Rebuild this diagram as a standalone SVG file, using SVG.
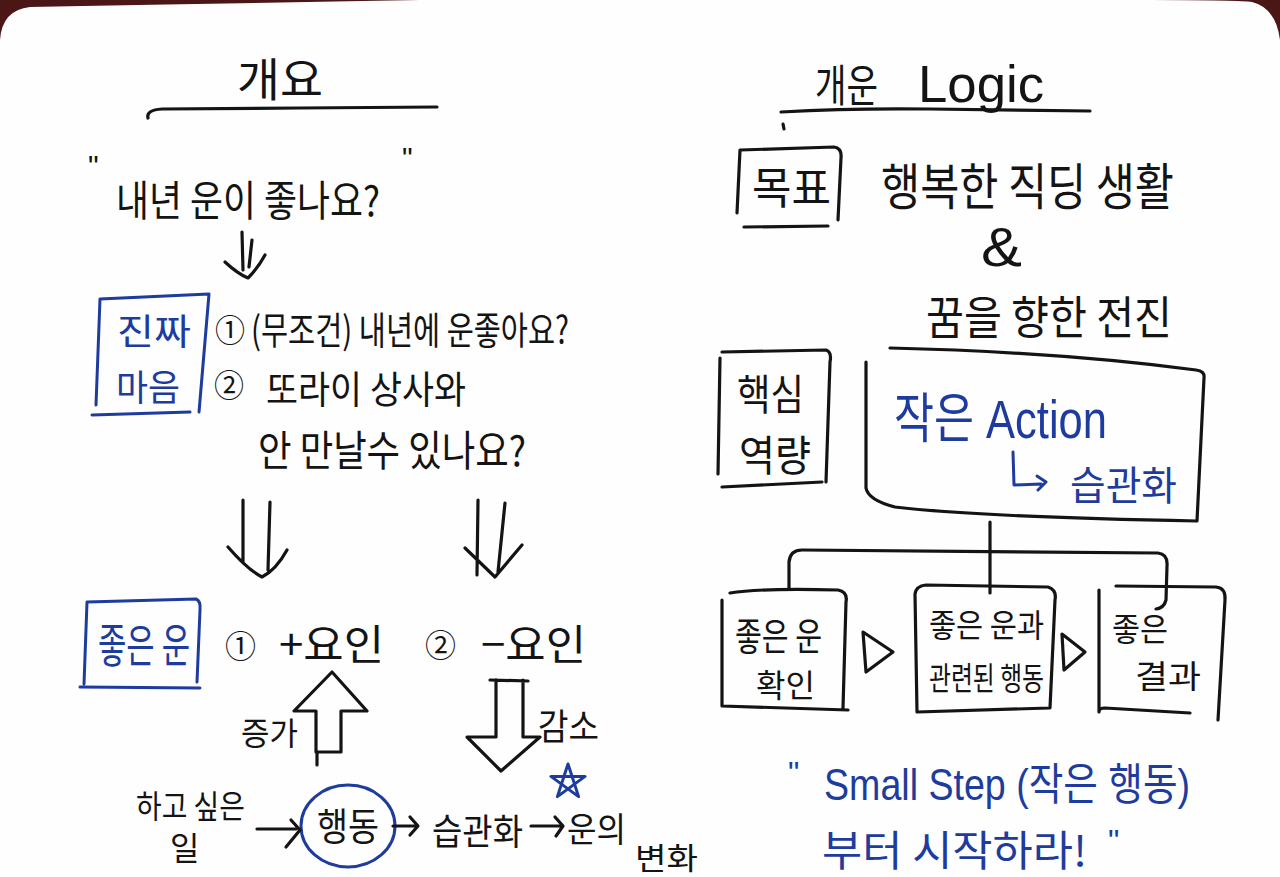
<svg xmlns="http://www.w3.org/2000/svg" width="1280" height="877" viewBox="0 0 1280 877">
<defs>
<style>
.ink{fill:none;stroke:#141414;stroke-width:3.2;stroke-linecap:round;stroke-linejoin:round}
.bink{fill:none;stroke:#1e3c9e;stroke-width:3;stroke-linecap:round;stroke-linejoin:round}
.k{font-family:"Noto Sans CJK KR","Noto Sans",sans-serif;fill:#141414}
.kb{font-family:"Noto Sans CJK KR","Noto Sans",sans-serif;fill:#1e3c9e}
.l{font-family:"Liberation Sans","Noto Sans CJK KR",sans-serif;fill:#141414}
.lb{font-family:"Liberation Sans","Noto Sans CJK KR",sans-serif;fill:#1e3c9e}
</style>
</defs>
<rect width="1280" height="877" fill="#4a1616"/>
<path d="M0,40 Q2,10 30,7 Q200,4 420,0 L1150,0 Q1240,0 1252,2 Q1276,8 1280,40 L1280,877 L0,877 Z" fill="#fefefe"/>

<!-- LEFT: 개요 -->
<g id="title-left">
<text class="k" x="237" y="96" font-size="46" textLength="86" lengthAdjust="spacingAndGlyphs">개요</text>
<path class="ink" d="M148,118 Q146,110 162,109 L300,108 L437,107"/>
</g>

<g id="question">
<text class="l" x="88" y="176" font-size="30">"</text>
<text class="k" x="116" y="216" font-size="42" textLength="264" lengthAdjust="spacingAndGlyphs">내년 운이 좋나요?</text>
<text class="l" x="402" y="168" font-size="30">"</text>
</g>

<g id="real-mind">
<path class="bink" d="M100,299 L209,294 L199,412 M92,415 L190,412 M100,299 L96,405"/>
<text class="kb" x="117" y="345" font-size="36" textLength="74" lengthAdjust="spacingAndGlyphs">진짜</text>
<text class="kb" x="116" y="401" font-size="36" textLength="64" lengthAdjust="spacingAndGlyphs">마음</text>
</g>

<g id="mind-items">
<text class="k" x="215" y="342" font-size="32" textLength="30" lengthAdjust="spacingAndGlyphs">①</text>
<text class="k" x="251" y="344" font-size="38" textLength="318" lengthAdjust="spacingAndGlyphs">(무조건) 내년에 운좋아요?</text>
<text class="k" x="214" y="397" font-size="32" textLength="30" lengthAdjust="spacingAndGlyphs">②</text>
<text class="k" x="266" y="403" font-size="38" textLength="200" lengthAdjust="spacingAndGlyphs">또라이 상사와</text>
<text class="k" x="258" y="466" font-size="42" textLength="268" lengthAdjust="spacingAndGlyphs">안 만날수 있나요?</text>
</g>

<g id="good-luck">
<path class="bink" d="M87,602 L196,599 Q201,601 200,610 L197,682 M80,687 L200,688 M87,602 L84,684"/>
<text class="kb" x="98" y="662" font-size="46" textLength="92" lengthAdjust="spacingAndGlyphs">좋은 운</text>
</g>

<g id="factors">
<text class="k" x="225" y="658" font-size="32" textLength="31" lengthAdjust="spacingAndGlyphs">①</text>
<text class="k" x="279" y="660" font-size="42" textLength="105" lengthAdjust="spacingAndGlyphs">+요인</text>
<text class="k" x="425" y="657" font-size="32" textLength="31" lengthAdjust="spacingAndGlyphs">②</text>
<text class="k" x="481" y="660" font-size="42" textLength="105" lengthAdjust="spacingAndGlyphs">−요인</text>
</g>

<g id="labels-updown">
<text class="k" x="241" y="745" font-size="32" textLength="57" lengthAdjust="spacingAndGlyphs">증가</text>
<text class="k" x="538" y="740" font-size="36" textLength="61" lengthAdjust="spacingAndGlyphs">감소</text>
<path class="bink" d="M568,764 L578.6,796.6 L550.9,776.4 L585.1,776.4 L557.4,796.6 Z"/>
</g>

<g id="flow-bottom">
<text class="k" x="136" y="818" font-size="32" textLength="109" lengthAdjust="spacingAndGlyphs">하고 싶은</text>
<text class="k" x="170" y="860" font-size="32">일</text>
<ellipse class="bink" cx="348" cy="826" rx="47" ry="41"/>
<text class="k" x="348" y="840" font-size="38" text-anchor="middle" textLength="62" lengthAdjust="spacingAndGlyphs">행동</text>
<text class="k" x="432" y="845" font-size="36" textLength="91" lengthAdjust="spacingAndGlyphs">습관화</text>
<text class="k" x="567" y="842" font-size="34" textLength="59" lengthAdjust="spacingAndGlyphs">운의</text>
<text class="k" x="635" y="869" font-size="30" textLength="63" lengthAdjust="spacingAndGlyphs">변화</text>
</g>

<!-- RIGHT: 개운 Logic -->
<g id="title-right">
<text class="k" x="815" y="102" font-size="44" textLength="63" lengthAdjust="spacingAndGlyphs">개운</text>
<text class="l" x="918" y="102" font-size="52" textLength="126" lengthAdjust="spacingAndGlyphs">Logic</text>
<path class="ink" d="M781,112 Q850,108 930,109 L1090,111"/>
<path class="ink" d="M783,124 L784,129" stroke-width="2"/>
</g>

<g id="goal">
<path class="ink" d="M740,150 L834,147 Q842,148 841,158 L838,220 M744,227 L828,226 M740,150 L737,213"/>
<text class="k" x="752" y="204" font-size="44" textLength="79" lengthAdjust="spacingAndGlyphs">목표</text>
<text class="k" x="881" y="205" font-size="50" textLength="293" lengthAdjust="spacingAndGlyphs">행복한 직딩 생활</text>
<text class="l" x="981" y="266" font-size="55" textLength="41" lengthAdjust="spacingAndGlyphs">&amp;</text>
<text class="k" x="926" y="334" font-size="46" textLength="246" lengthAdjust="spacingAndGlyphs">꿈을 향한 전진</text>
</g>

<g id="core">
<path class="ink" d="M722,352 L826,350 Q832,352 830,362 L826,482 M722,487 L822,482 M720,358 L718,474"/>
<text class="k" x="737" y="410" font-size="42" textLength="67" lengthAdjust="spacingAndGlyphs">핵심</text>
<text class="k" x="739" y="471" font-size="42" textLength="72" lengthAdjust="spacingAndGlyphs">역량</text>
</g>

<g id="action-box">
<path class="ink" d="M866,362 L866,488 Q868,500 895,507 Q980,517 1197,521 L1204,378 Q1205,371 1196,370 Q1060,352 890,348"/>
<text class="lb" x="894" y="438" font-size="54" textLength="213" lengthAdjust="spacingAndGlyphs">작은 Action</text>
<path class="bink" d="M1013,452 L1014,485 L1041,484 M1037,476 L1046,482 L1038,490"/>
<text class="kb" x="1070" y="500" font-size="40" textLength="107" lengthAdjust="spacingAndGlyphs">습관화</text>
</g>

<g id="box-confirm">
<path class="ink" d="M730,593 Q760,588 838,590 Q848,592 846,602 L843,708 M722,600 L722,706 L848,710"/>
<text class="k" x="735" y="650" font-size="38" textLength="87" lengthAdjust="spacingAndGlyphs">좋은 운</text>
<text class="k" x="756" y="697" font-size="32" textLength="59" lengthAdjust="spacingAndGlyphs">확인</text>
</g>

<g id="box-action">
<path class="ink" d="M915,594 Q916,586 926,585 L1048,587 Q1057,590 1055,600 L1050,708 L917,712 Z"/>
<text class="k" x="929" y="637" font-size="32" textLength="115" lengthAdjust="spacingAndGlyphs">좋은 운과</text>
<text class="k" x="929" y="690" font-size="32" textLength="115" lengthAdjust="spacingAndGlyphs">관련된 행동</text>
</g>

<g id="box-result">
<path class="ink" d="M1116,586 L1216,587 Q1226,588 1225,600 L1218,720 M1099,590 L1099,712 Q1099,708 1105,708 L1190,713"/>
<text class="k" x="1112" y="641" font-size="32" textLength="56" lengthAdjust="spacingAndGlyphs">좋은</text>
<text class="k" x="1135" y="688" font-size="32" textLength="66" lengthAdjust="spacingAndGlyphs">결과</text>
</g>

<g id="slogan">
<text class="lb" x="788" y="784" font-size="32">"</text>
<text class="lb" x="824" y="800" font-size="44" textLength="366" lengthAdjust="spacingAndGlyphs">Small Step (작은 행동)</text>
<text class="kb" x="822" y="866" font-size="42" textLength="265" lengthAdjust="spacingAndGlyphs">부터 시작하라!</text>
<text class="lb" x="1108" y="852" font-size="32">"</text>
</g>

<!-- CONNECTORS -->
<g id="connectors">
<path class="ink" d="M242,232 L243,270 M252,240 L249,267 M225,262 Q238,274 248,278 Q258,268 265,255"/>
<path class="ink" stroke-width="4" d="M243,500 L243,562 M270,502 L268,570 M228,547 Q248,570 262,577 Q276,570 287,550"/>
<path class="ink" d="M478,500 L477,575 M505,503 L498,572 M465,548 L495,577 L522,545"/>
<path class="ink" d="M332,672 L367,711 L341,711 L341,752 L316,752 L316,711 L294,711 Z M317,752 L317,765"/>
<path class="ink" d="M490,680 L528,681 M496,680 L496,737 L467,737 L501,771 L540,737 L523,737 L523,680"/>
<path class="ink" d="M257,829 L296,829 M291,820 L300,830 L286,847"/>
<path class="ink" d="M393,826 L416,826 M410,817 L418,826 L410,835"/>
<path class="ink" d="M531,826 L562,826 M555,817 L563,826 L556,836"/>
<path class="ink" d="M990,522 L990,593"/>
<path class="ink" d="M789,588 L789,562 Q790,550 802,550 L1158,553 Q1168,554 1167,566 L1166,600 Q1164,608 1156,609"/>
<path class="ink" d="M863,632 L893,652 L866,672 Z"/>
<path class="ink" d="M1062,634 L1085,652 L1064,670 Z"/>
</g>
</svg>
